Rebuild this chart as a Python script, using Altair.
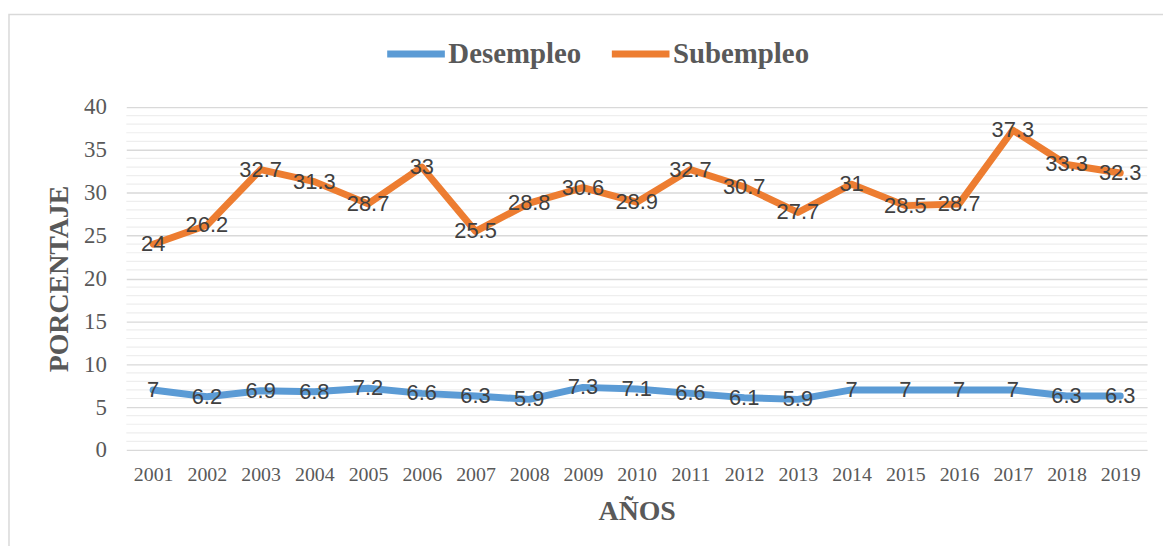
import altair as alt
import pandas as pd

anios = [str(y) for y in range(2001, 2020)]
desempleo = [7, 6.2, 6.9, 6.8, 7.2, 6.6, 6.3, 5.9, 7.3, 7.1, 6.6, 6.1, 5.9, 7, 7, 7, 7, 6.3, 6.3]
subempleo = [24, 26.2, 32.7, 31.3, 28.7, 33, 25.5, 28.8, 30.6, 28.9, 32.7, 30.7, 27.7, 31, 28.5, 28.7, 37.3, 33.3, 32.3]
series = ["Desempleo", "Subempleo"]
colores = ["#5B9BD5", "#ED7D31"]
ticks_y = [0, 5, 10, 15, 20, 25, 30, 35, 40]
minor_y = [v for v in range(0, 41) if v % 5]

df = pd.DataFrame({
    "anio": anios * 2,
    "serie": [series[0]] * len(anios) + [series[1]] * len(anios),
    "valor": desempleo + subempleo,
})
df["etiqueta"] = df["valor"].map(lambda v: f"{v:g}")
df_minor = pd.DataFrame({"valor": minor_y})

SERIF = "Liberation Serif"
SANS = "Liberation Sans"
GRAY = "#595959"
W, H = 1027, 345

yscale = alt.Scale(domain=[0, 40], nice=False, zero=True)
xscale = alt.Scale(type="point", padding=0.5)

x_enc = alt.X("anio:O", scale=xscale, sort=anios, axis=alt.Axis(
    title="AÑOS", labelAngle=0, labelFont=SERIF, labelFontSize=20, labelColor=GRAY,
    labelPadding=15, ticks=False, domain=False, grid=False,
    titleFont=SERIF, titleFontSize=28, titleFontWeight="bold", titleColor=GRAY,
    titleBaseline="middle", titleY=62))

y_enc = alt.Y("valor:Q", scale=yscale, axis=alt.Axis(
    orient="left", values=ticks_y, ticks=False, domain=False, grid=True,
    gridColor="#d9d9d9", gridWidth=1.3,
    labelFont=SERIF, labelFontSize=23, labelColor=GRAY, labelPadding=20,
    title="PORCENTAJE", titleFont=SERIF, titleFontSize=28, titleFontWeight="bold",
    titleColor=GRAY, titleAngle=270, titleBaseline="middle", titleX=-67))

frame = alt.Chart(pd.DataFrame({"a": [0]})).mark_rect(
    fillOpacity=0, stroke="#d9d9d9", strokeWidth=1.5
).encode(x=alt.value(-118), x2=alt.value(1200), y=alt.value(-93), y2=alt.value(560))

minor = alt.Chart(df_minor).mark_rule(color="#eeeeee", strokeWidth=1.2).encode(
    y=y_enc,
    x=alt.value(0), x2=alt.value(W),
)

lines = alt.Chart(df).mark_line(strokeWidth=7, strokeCap="round", strokeJoin="round").encode(
    x=x_enc,
    y=y_enc,
    color=alt.Color("serie:N", scale=alt.Scale(domain=series, range=colores), legend=alt.Legend(
        title=None, orient="none", legendX=259, legendY=-86, direction="horizontal",
        symbolType="stroke", symbolSize=3364, symbolStrokeWidth=7,
        labelFont=SERIF, labelFontSize=29, labelFontWeight="bold", labelColor=GRAY,
        columnPadding=16, labelOffset=0, padding=0, labelLimit=300)),
)

labels = alt.Chart(df).mark_text(font=SANS, fontSize=22, color="#404040", baseline="middle", align="center").encode(
    x=x_enc,
    y=y_enc,
    text="etiqueta:N",
)

chart = alt.layer(frame, minor, lines, labels).properties(
    width=W, height=H,
    padding={"left": 119, "top": 98, "right": 16, "bottom": 95},
    autosize=alt.AutoSizeParams(type="none"),
).configure(background="white", view=alt.ViewConfig(stroke=None))

chart.save("out.html", embed_options={"renderer": "svg", "actions": False})
